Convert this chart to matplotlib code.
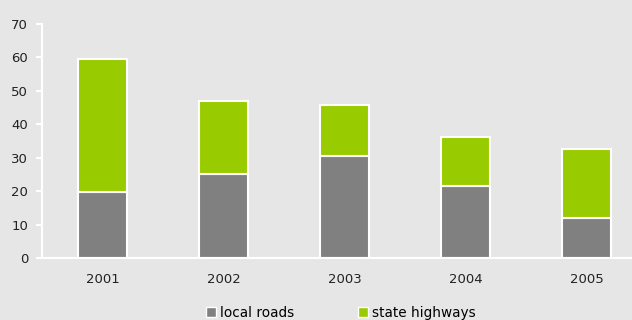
import matplotlib
matplotlib.use("Agg")
import matplotlib.pyplot as plt
import numpy as np
from matplotlib.patches import Patch

years = ["2001", "2002", "2003", "2004", "2005"]
local_roads = [19.8, 25.0, 30.5, 21.5, 12.1]
state_highways = [39.8, 21.9, 15.2, 14.8, 20.5]

BG = "#e6e6e6"
GREY, GREEN = "#808080", "#99cc00"

fig = plt.figure(figsize=(6.32, 3.2), dpi=100, facecolor=BG)
ax = fig.add_axes([42 / 632, 62 / 320, 590 / 632, 234 / 320], facecolor=BG)

x = np.arange(len(years))
w = 0.40
ax.bar(x, local_roads, w, color=GREY, edgecolor="white", linewidth=1.5,
       label="local roads")
ax.bar(x, state_highways, w, bottom=local_roads, color=GREEN,
       edgecolor="white", linewidth=1.5, label="state highways")

ax.set_xlim(-0.5, 4.5 - 15 / 121)
ax.set_ylim(0, 70)
ax.set_yticks(range(0, 71, 10))
ax.set_xticks(x)
ax.set_xticklabels(years)
for s in ("top", "right"):
    ax.spines[s].set_visible(False)
for s in ("left", "bottom"):
    ax.spines[s].set_color("white")
    ax.spines[s].set_linewidth(1.5)
ax.tick_params(axis="y", colors="white", length=4, width=1.5, pad=6,
               labelcolor="#222222", labelsize=9.5)
ax.tick_params(axis="x", length=0, pad=11, labelcolor="#222222", labelsize=9.5)

handles = [Patch(facecolor=GREY, edgecolor="white", lw=1),
           Patch(facecolor=GREEN, edgecolor="white", lw=1)]
fig.legend(handles, ["local roads", "state highways"], ncol=2,
           loc="center", bbox_to_anchor=(341 / 632, 1 - 313 / 320),
           frameon=False, fontsize=9.8, handlelength=0.7, handleheight=0.7,
           handletextpad=0.3, columnspacing=4.7)

fig.savefig("out.png", dpi=100, facecolor=BG)
